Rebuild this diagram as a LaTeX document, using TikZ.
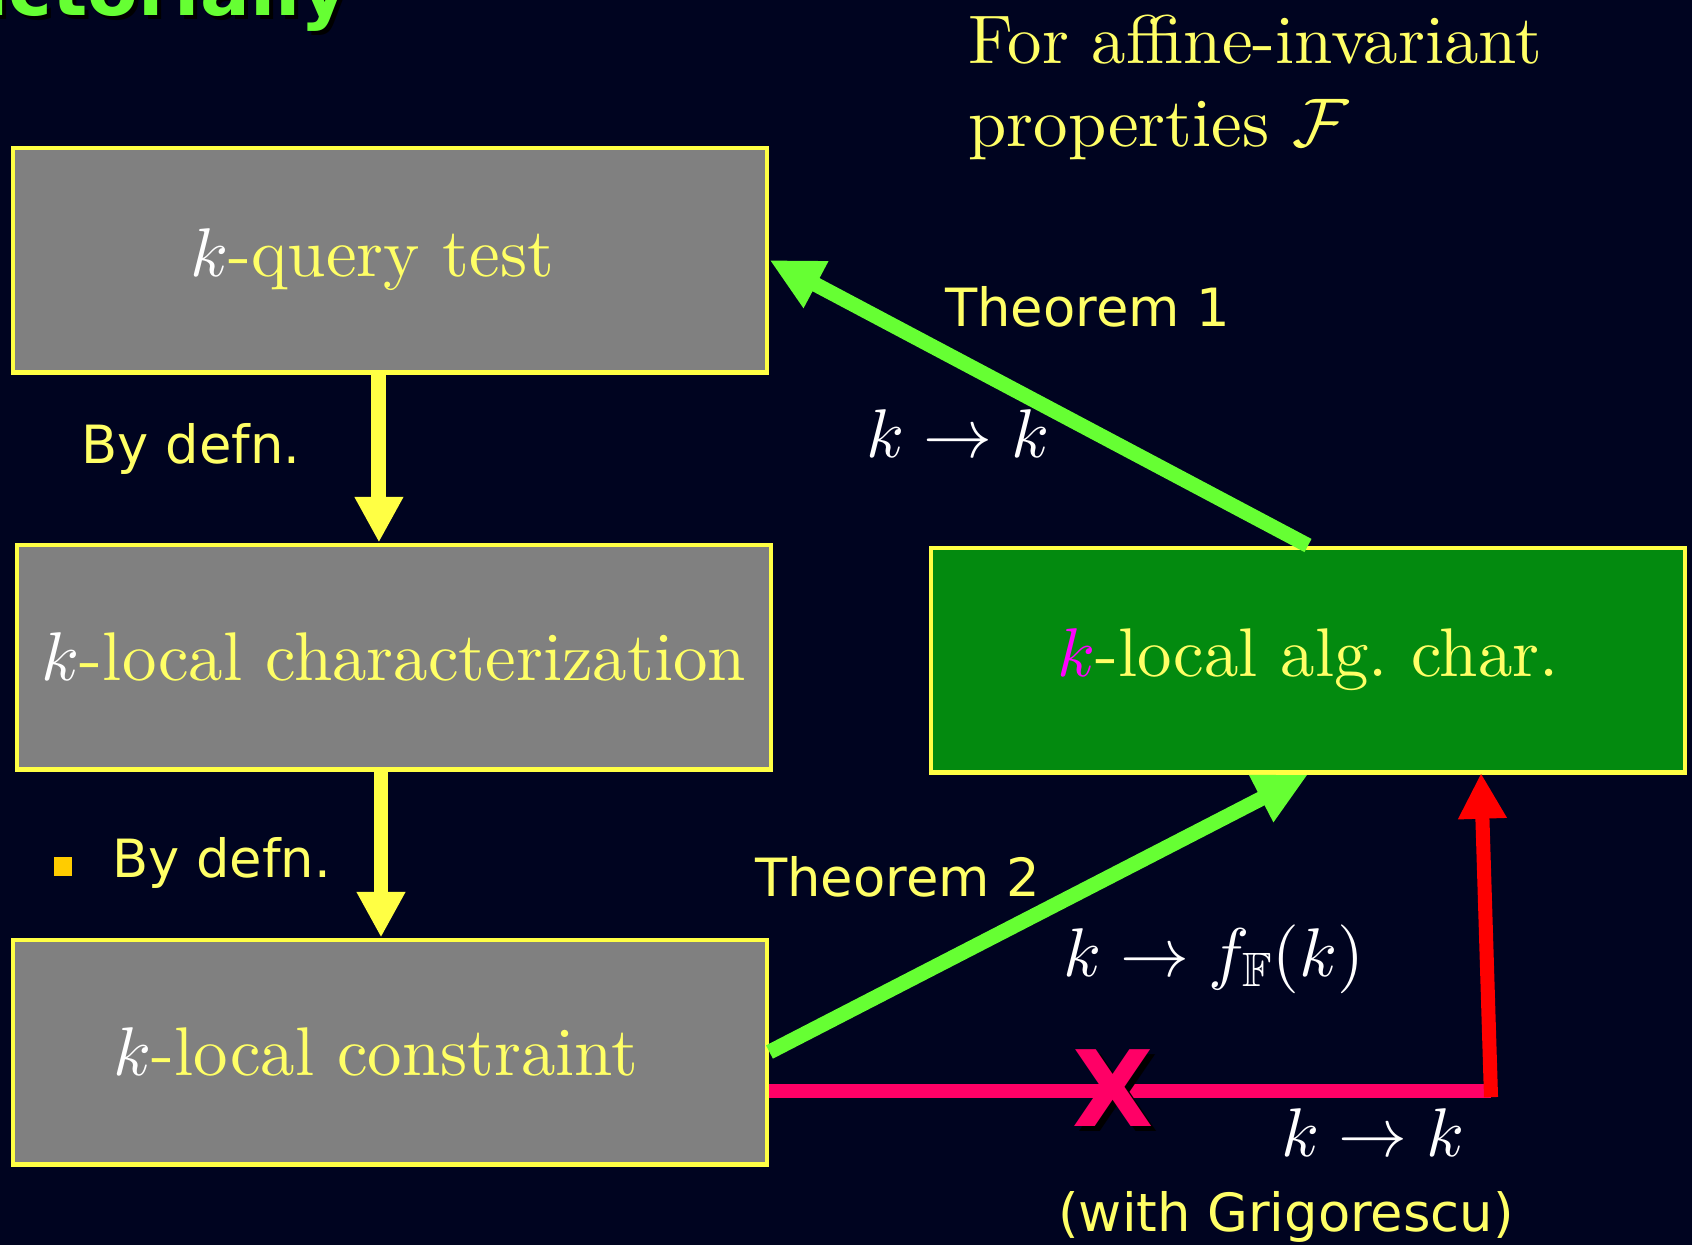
\documentclass[tikz,border=0pt]{standalone}
\usepackage{amssymb}
\DeclareFontShape{OML}{cmm}{m}{it}{<-> cmmi10}{}
\DeclareFontShape{OMS}{cmsy}{m}{n}{<-> cmsy10}{}
\DeclareFontShape{OT1}{cmr}{m}{n}{<-> cmr10}{}
\DeclareFontFamily{U}{msb}{}
\DeclareFontShape{U}{msb}{m}{n}{<-> msbm10}{}
\usepackage{fontspec}
\setmainfont{lmroman10-regular.otf}
\usetikzlibrary{arrows.meta}
\newfontfamily\slidesans{DejaVu Sans}
\newfontfamily\slidesansbf{DejaVu Sans Bold}
\definecolor{slidebg}{HTML}{000420}
\definecolor{boxgray}{HTML}{808080}
\definecolor{boxedge}{HTML}{FFFF44}
\definecolor{textyellow}{HTML}{FFFF66}
\definecolor{algbox}{HTML}{038A0F}
\definecolor{thmgreen}{HTML}{66FF33}
\definecolor{failpink}{HTML}{FF0066}
\definecolor{kmagenta}{HTML}{FF00FF}
\definecolor{bulletorange}{HTML}{FFCC00}
\begin{document}
\begin{tikzpicture}[x=0.02cm,y=-0.02cm,
  box/.style={draw=boxedge,line width=2.3pt,fill=boxgray,minimum width=15.1cm,
    minimum height=4.5cm,inner sep=0pt,text=textyellow,font=\fontsize{39.2}{47}\selectfont},
  sanslabel/.style={text=textyellow,inner sep=0pt,font=\slidesans\fontsize{30}{36}\selectfont},
  serifline/.style={text=textyellow,inner sep=0pt,font=\fontsize{39.2}{47}\selectfont},
  maps/.style={text=white,inner sep=0pt,font=\fontsize{39.2}{47}\selectfont},
  defnarrow/.style={draw=boxedge,line width=8.5pt,-{Triangle[length=26pt,width=26pt]}},
  thmarrow/.style={draw=thmgreen,line width=8.5pt,-{Triangle[length=30pt,width=28pt]}},
]
\useasboundingbox (0,0) rectangle (1692,1245);
\clip (0,0) rectangle (1692,1245);
\fill[slidebg] (0,0) rectangle (1692,1245);

% title, cut off by the top edge
\node[anchor=base east,inner sep=0pt,text=black,font=\slidesansbf\fontsize{42}{48}\selectfont]
  at (353,19) {Pictorially};
\node (title) [anchor=base east,inner sep=0pt,text=thmgreen,font=\slidesansbf\fontsize{42}{48}\selectfont]
  at (349,15) {Pictorially};

\node[serifline,anchor=base west] (for) at (968,63) {For affine-invariant};
\node[serifline,anchor=base west] (props) at (968,146) {properties $\mathcal{F}$};

% boxes
\node[box] (qtest) at (390,260) {\textcolor{white}{$k$}-query test\hspace*{20pt}};
\node[box] (lchar) at (394,657) {\textcolor{white}{$k$}-local characterization};
\node[box] (lcons) at (390,1052) {\textcolor{white}{$k$}-local constraint\hspace*{16pt}};
\node[box,fill=algbox] (algchar) at (1308,660) {\textcolor{kmagenta}{$k$}-local alg.\ char.};

% left column
\draw[defnarrow] ([xshift=-6.3pt]qtest.south) -- ([xshift=-6.3pt]qtest.south |- lchar.north);
\draw[defnarrow] ([xshift=-7.4pt]lchar.south) -- ([xshift=-7.4pt]lchar.south |- lcons.north);
\node[sanslabel] (defn1) at (191,449) {By defn.};
\node[fill=bulletorange,minimum size=0.38cm,inner sep=0pt] (bullet) at (63,866) {};
\node[sanslabel,anchor=west] (defn2) at (112,863) {By defn.};

% theorems
\draw[thmarrow] (algchar.north) -- (qtest.east);
\draw[thmarrow] (lcons.east) -- (algchar.south);
\node[sanslabel,anchor=west] (thm1) at (945,307) {Theorem 1};
\node[sanslabel,anchor=west] (thm2) at (755,877) {Theorem 2};
\node[maps] (map1) at (958,434) {$k\rightarrow k$};
\node[maps] (map2) at (1214,959) {$k\rightarrow f_{\mathbb{F}}(k)$};

% the route with Grigorescu
\coordinate (corner) at (1491,1091);
\coordinate (redtip) at (1481,773);
\draw[failpink,line width=7.5pt] (lcons.east |- corner) -- (corner);
\draw[red,line width=8pt,-{Triangle[length=26pt,width=26pt]}] ([yshift=-3.5pt]corner) -- (redtip);
\node[inner sep=0pt,text=black,font=\slidesansbf\fontsize{60}{70}\selectfont] at (1118,1093) {X};
\node (cross) [inner sep=0pt,text=failpink,font=\slidesansbf\fontsize{60}{70}\selectfont] at (1113,1088) {X};
\node[maps] (map3) at (1373,1133) {$k\rightarrow k$};
\node[sanslabel] (grig) at (1286,1217) {(with Grigorescu)};
\end{tikzpicture}
\end{document}
